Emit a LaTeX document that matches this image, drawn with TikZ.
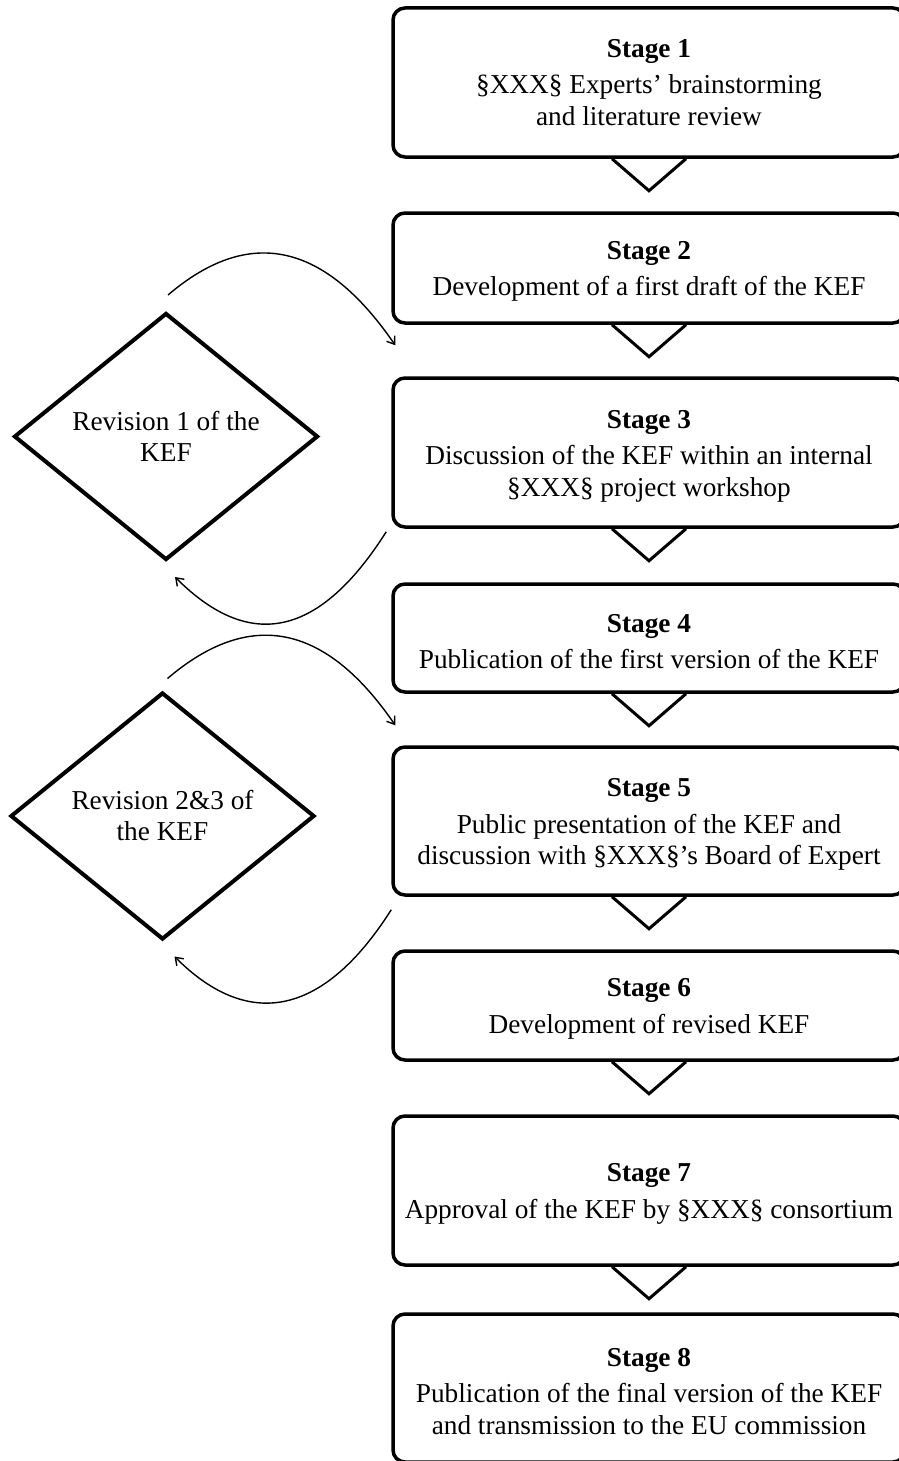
\documentclass[tikz,border=0pt]{standalone}
\usepackage{fontspec}
\setmainfont{Liberation Serif}
\usetikzlibrary{positioning,arrows.meta,shapes.geometric}
\newcommand{\stagehead}[1]{\rule{0pt}{25pt}\textbf{Stage #1}}
\tikzset{
  stagebox/.style={draw,line width=3.5pt,rounded corners=12pt,minimum width=512pt,inner sep=0pt,align=center,font=\fontsize{27.3}{31.5}\selectfont},
  revbox/.style={draw,diamond,line width=4pt,aspect=1.23,minimum width=304pt,minimum height=247pt,inner sep=0pt,align=center,font=\fontsize{27.3}{31}\selectfont},
  tri/.style={line width=3pt,line join=miter},
  rline/.style={line width=1.4pt,-{Straight Barb[length=7pt,width=10pt]}}
}
\begin{document}
\begin{tikzpicture}[x=1pt,y=-1pt]
  \useasboundingbox (0,0) rectangle (898,1461);
  % stages
  \node[stagebox,minimum height=149pt] (s1) at (649,82.5) {\textbf{Stage 1}\\[5pt]§XXX§ Experts’ brainstorming\\and literature review};
  \node[stagebox,minimum height=110pt] (s2) at (649,268) {\stagehead{2}\\[5pt]Development of a first draft of the KEF};
  \node[stagebox,minimum height=149pt] (s3) at (649,452.5) {\stagehead{3}\\[5pt]Discussion of the KEF within an internal\\§XXX§ project workshop};
  \node[stagebox,minimum height=108pt] (s4) at (649,638) {\stagehead{4}\\[5pt]Publication of the first version of the KEF};
  \node[stagebox,minimum height=148pt] (s5) at (649,821) {\stagehead{5}\\[5pt]Public presentation of the KEF and\\discussion with §XXX§’s Board of Expert};
  \node[stagebox,minimum height=109pt] (s6) at (649,1005.5) {\stagehead{6}\\[5pt]Development of revised KEF};
  \node[stagebox,minimum height=149pt] (s7) at (649,1190.5) {\stagehead{7}\\[5pt]Approval of the KEF by §XXX§ consortium};
  \node[stagebox,minimum height=148pt] (s8) at (649,1388) {\stagehead{8}\\[5pt]Publication of the final version of the KEF\\and transmission to the EU commission};
  % revisions
  \node[revbox] (rev1) at (166,436.5) {Revision 1 of the\\KEF};
  \node[revbox] (rev2) at (162.5,816) {Revision 2\&3 of\\the KEF};
  % down triangles
  \foreach \s in {s1,s2,s3,s4,s5,s6,s7}
    \draw[tri] ([xshift=-37pt]\s.south) -- ++(37,32) -- ++(37,-32);
  % revision loops
  \coordinate[above right=16pt and 2pt of rev1.north] (r1out);
  \coordinate[above right=31pt and 4pt of s3.north west] (r1in);
  \coordinate[below left=3pt and 5pt of s3.south west] (s3out);
  \coordinate[below right=15pt and 9pt of rev1.south] (r1back);
  \coordinate[above right=12pt and 5pt of rev2.north] (r2out);
  \coordinate[above right=20pt and 4pt of s5.north west] (r2in);
  \coordinate[below=13pt of s5.south west] (s5out);
  \coordinate[below right=15pt and 12pt of rev2.south] (r2back);
  \draw[rline] (r1out) .. controls +(82,-70) and +(-70,-102) .. (r1in);
  \draw[rline] (s3out) .. controls +(-66,104) and +(76,76) .. (r1back);
  \draw[rline] (r2out) .. controls +(82,-70) and +(-70,-102) .. (r2in);
  \draw[rline] (s5out) .. controls +(-66,104) and +(76,76) .. (r2back);
\end{tikzpicture}
\end{document}
